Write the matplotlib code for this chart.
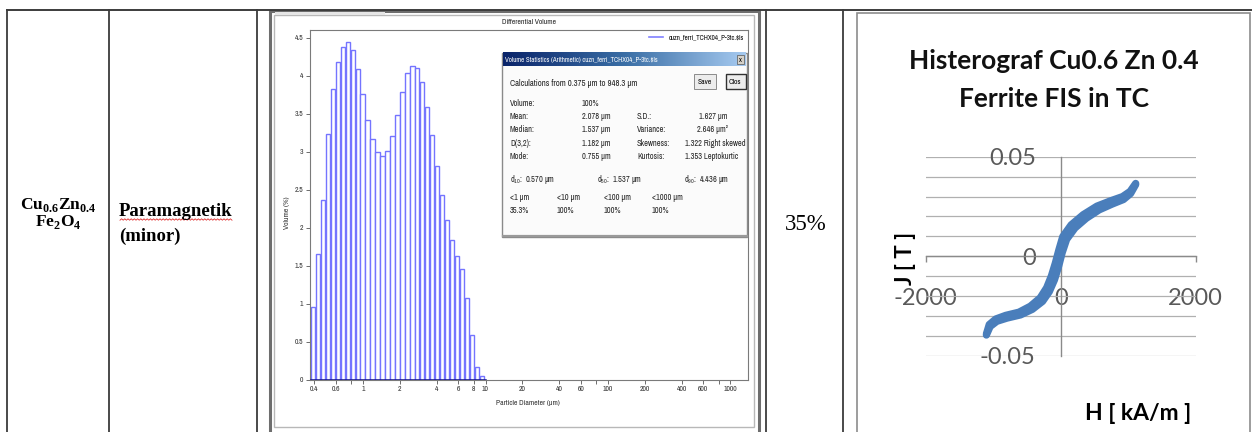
import numpy as np
import matplotlib
matplotlib.use("Agg")
import matplotlib.pyplot as plt
from matplotlib.patches import Rectangle
from matplotlib.lines import Line2D
from matplotlib.ticker import FixedLocator, NullFormatter, FixedFormatter

plt.rcParams['axes.unicode_minus'] = False
plt.rcParams['mathtext.fontset'] = 'custom'
plt.rcParams['mathtext.rm'] = 'Liberation Serif'
plt.rcParams['mathtext.bf'] = 'Liberation Serif:bold'
plt.rcParams['mathtext.sf'] = 'Archivo Narrow'

# --- particle size distribution (LS channels, um) ---
channel_edges = [0.375, 0.412, 0.452, 0.496, 0.545, 0.598, 0.657, 0.721, 0.791,
                 0.869, 0.953, 1.047, 1.149, 1.261, 1.385, 1.520, 1.669, 1.832,
                 2.011, 2.207, 2.423, 2.660, 2.920, 3.206, 3.519, 3.863, 4.241,
                 4.656, 5.111, 5.611, 6.159, 6.761, 7.422, 8.148, 8.944, 9.819]
volume_pct = [0.95, 1.65, 2.36, 3.23, 3.82, 4.18, 4.37, 4.44, 4.34, 4.09,
              3.76, 3.42, 3.16, 2.99, 2.94, 3.01, 3.21, 3.48, 3.79, 4.03,
              4.13, 4.10, 3.92, 3.59, 3.22, 2.81, 2.43, 2.10, 1.83, 1.63,
              1.46, 1.07, 0.58, 0.16, 0.04]
size_ticks = [0.4, 0.6, 1, 2, 4, 6, 8, 10, 20, 40, 60, 100, 200, 400, 600, 1000]
size_minor = [0.8, 80, 800]
vol_ticks = [0, 0.5, 1, 1.5, 2, 2.5, 3, 3.5, 4, 4.5]

stat_rows = [("Volume:", "100%", "", ""),
             ("Mean:", "2.078 µm", "S.D.:", "1.627 µm"),
             ("Median:", "1.537 µm", "Variance:", "2.646 µm²"),
             ("D(3,2):", "1.182 µm", "Skewness:", "1.322 Right skewed"),
             ("Mode:", "0.755 µm", "Kurtosis:", "1.353 Leptokurtic")]
d_values = [(r"d$_{\mathsf{10}}$:", "0.570 µm"), (r"d$_{\mathsf{50}}$:", "1.537 µm"), (r"d$_{\mathsf{90}}$:", "4.436 µm")]
under_labels = ["<1 µm", "<10 µm", "<100 µm", "<1000 µm"]
under_values = ["35.3%", "100%", "100%", "100%"]

# --- hysteresis loop (H in kA/m, J in T) ---
asc_h = [-1101, -1045, -945, -795, -595, -420, -268, -168, -92, -30, 22, 88, 212, 380, 570, 762, 930, 1036, 1111]
asc_b = [-0.0395, -0.0352, -0.0326, -0.0310, -0.0294, -0.0266, -0.0226, -0.0177, -0.0118, -0.0050,
         0.0018, 0.0085, 0.0142, 0.0191, 0.0233, 0.0262, 0.0285, 0.0315, 0.0360]
desc_h = [1111, 1028, 916, 740, 536, 332, 154, 30, -28, -80, -138, -208, -304, -450, -619, -815, -961, -1059, -1101]
desc_b = [0.0366, 0.0326, 0.0300, 0.0279, 0.0252, 0.0209, 0.0158, 0.0099, 0.0032, -0.0034,
          -0.0098, -0.0157, -0.0208, -0.0250, -0.0280, -0.0296, -0.0314, -0.0342, -0.0389]

W, H = 1252, 432
fig = plt.figure(figsize=(W / 100, H / 100), dpi=100)


def box(x0, y0, x1, y1):
    return [x0 / W, 1 - y1 / H, (x1 - x0) / W, (y1 - y0) / H]


cv = fig.add_axes([0, 0, 1, 1], zorder=0)
cv.set_xlim(0, W)
cv.set_ylim(H, 0)
cv.axis('off')

# table grid
line_c = '#3c3c3c'
cv.plot([7, W], [9.5, 9.5], color=line_c, lw=1.4)
for xv in [7, 108.5, 257, 766, 843]:
    cv.plot([xv, xv], [9.5, H], color=line_c, lw=1.3)

cv.text(58, 205, r'$\mathbf{Cu}_{\mathbf{0.6}}\mathbf{Zn}_{\mathbf{0.4}}$', ha='center', va='center', fontsize=12.5)
cv.text(58, 222, r'$\mathbf{Fe}_{\mathbf{2}}\mathbf{O}_{\mathbf{4}}$', ha='center', va='center', fontsize=12.5)
cv.text(119, 216, "Paramagnetik", family='Liberation Serif', weight='bold', fontsize=13.5, va='baseline')
cv.text(119, 241, "(minor)", family='Liberation Serif', weight='bold', fontsize=13.5, va='baseline')
wx = np.arange(120, 233, 1.6)
cv.plot(wx, 219.5 + 0.7 * (-1) ** np.arange(len(wx)), color='#e03030', lw=0.6)
cv.text(806, 224, "35%", family='Liberation Serif', fontsize=16.5, ha='center', va='center')

# screenshot window frame
cv.add_patch(Rectangle((269.5, 10.5), 489, 425, facecolor='white', edgecolor='#6e6e6e', lw=2.2))
cv.add_patch(Rectangle((274, 14.5), 480, 412, facecolor='none', edgecolor='#b8b8b8', lw=1))
cv.add_patch(Rectangle((275, 12), 110, 3, facecolor='#e6e6e6', edgecolor='none'))

# chart frame on the right
cv.add_patch(Rectangle((857, 13), 393, 430, facecolor='white', edgecolor='#8c8c8c', lw=1.2))

small = ['Archivo Narrow', 'DejaVu Sans']
txt_c = '#262626'

# ---------------- histogram ----------------
ax = fig.add_axes(box(310, 30, 748, 379.5), zorder=1)
ax.set_xscale('log')
lefts = np.array(channel_edges[:-1])
widths = np.diff(channel_edges) * 0.88
ax.bar(lefts, volume_pct, width=widths, align='edge', facecolor='white',
       edgecolor='#7474ff', lw=1.0)
ax.plot([channel_edges[0], channel_edges[-1]], [0, 0], color='#10108a', lw=1.8, zorder=4)
ax.set_xlim(0.369, 1390)
ax.set_ylim(0, 4.6)
ax.xaxis.set_major_locator(FixedLocator(size_ticks))
ax.xaxis.set_major_formatter(FixedFormatter(['%g' % v for v in size_ticks]))
ax.xaxis.set_minor_locator(FixedLocator(size_minor))
ax.xaxis.set_minor_formatter(NullFormatter())
ax.set_yticks(vol_ticks)
ax.set_yticklabels(['%g' % v for v in vol_ticks])
ax.tick_params(labelsize=5.5, colors='#555555', length=3, width=0.6, pad=2)
ax.tick_params(which='minor', length=3, width=0.6, colors='#555555')
for lab in ax.get_xticklabels() + ax.get_yticklabels():
    lab.set_family(small)
    lab.set_color('#333333')
for s in ax.spines.values():
    s.set_color('#7a7a7a')
    s.set_linewidth(0.8)
ax.set_title("Differential Volume", fontsize=5.5, family=small, pad=4, color=txt_c)
ax.legend(handles=[Line2D([0], [0], color='#8080ff', lw=1.2)],
          labels=[r"cuzn_ferri_TCHX04_P-3tc.\$ls"], loc='upper right', frameon=False,
          prop={'family': small, 'size': 5}, handlelength=2, borderaxespad=0.2)
cv.text(287, 213, "Volume (%)", rotation=90, ha='center', va='center', fontsize=5.5, family=small, color='#333333')
cv.text(528, 403, "Particle Diameter (µm)", ha='center', va='center', fontsize=5.5, family=small, color='#333333')

# ---------------- statistics dialog (overlay) ----------------
ov = fig.add_axes([0, 0, 1, 1], zorder=3)
ov.set_xlim(0, W)
ov.set_ylim(H, 0)
ov.axis('off')
ov.patch.set_alpha(0)
ov.add_patch(Rectangle((502, 52.5), 245, 184, facecolor='#fbfbfb', edgecolor='#8a8a8a', lw=1.0))
ov.plot([503, 747], [236, 236], color='#9a9a9a', lw=1.6)
grad = np.linspace(0, 1, 256).reshape(1, -1)
ov.imshow(grad, extent=(503, 746, 66.5, 53), cmap=matplotlib.colors.LinearSegmentedColormap.from_list(
    'tb', ['#0a246a', '#3a6ea5', '#a6caf0']), aspect='auto', zorder=2)
ov.text(505, 60, r"Volume Statistics (Arithmetic) cuzn_ferri_TCHX04_P-3tc.\$ls", color='white',
        fontsize=5, weight='bold', family=small, va='center', zorder=3)
ov.add_patch(Rectangle((737, 55), 7, 9, facecolor='#d4d0c8', edgecolor='#555555', lw=0.5, zorder=3))
ov.text(740.5, 59.5, "x", fontsize=5, ha='center', va='center', zorder=4, family=small, weight='bold')
ov.text(510, 83, "Calculations from 0.375 µm to 948.3 µm", fontsize=6.3, family=small, va='center', color=txt_c)
ov.add_patch(Rectangle((694, 74), 22, 15, facecolor='#ececec', edgecolor='#8a8a8a', lw=0.7))
ov.text(705, 81.5, "Save", fontsize=5.5, family=small, ha='center', va='center')
ov.add_patch(Rectangle((726, 74), 20, 15, facecolor='#ececec', edgecolor='#303030', lw=1.0))
ov.text(729, 81.5, "Clos", fontsize=5.5, family=small, va='center')

fs = 6
row_y = [103, 116.7, 130, 143.5, 156.8]
col4_x = [702, 699, 697, 685, 685]
for (a, b, c, d), yy, x4 in zip(stat_rows, row_y, col4_x):
    ov.text(510, yy, a, fontsize=fs, family=small, va='center', color=txt_c)
    ov.text(582, yy, b, fontsize=fs, family=small, va='center', color=txt_c)
    if c:
        ov.text(637, yy, c, fontsize=fs, family=small, va='center', color=txt_c)
        ov.text(x4, yy, d, fontsize=fs, family=small, va='center', color=txt_c, clip_on=True)
for (lab, val), xx in zip(d_values, [510, 597, 684]):
    ov.text(xx, 179, lab + "  " + val, fontsize=fs, family=small, va='center', color=txt_c)
for lab, val, xx in zip(under_labels, under_values, [510, 557, 604, 652]):
    ov.text(xx, 197, lab, fontsize=fs, family=small, va='center', color=txt_c)
    ov.text(xx, 210.5, val, fontsize=fs, family=small, va='center', color=txt_c)

# ---------------- hysteresis chart ----------------
hx = fig.add_axes(box(925.7, 156.7, 1195.7, 356), zorder=1)
hx.patch.set_alpha(0)
hx.set_xlim(-2000, 2000)
hx.set_ylim(-0.05, 0.05)
blue = '#4a7ebb'
hx.fill(asc_h + desc_h, asc_b + desc_b, color=blue, lw=0, zorder=5)
hx.plot(asc_h, asc_b, color=blue, lw=5.2, solid_capstyle='round', solid_joinstyle='round', zorder=5)
hx.plot(desc_h, desc_b, color=blue, lw=5.2, solid_capstyle='round', solid_joinstyle='round', zorder=5)
for side in ['top', 'right']:
    hx.spines[side].set_visible(False)
hx.spines['left'].set_position(('data', 0))
hx.spines['bottom'].set_position(('data', 0))
for side in ['left', 'bottom']:
    hx.spines[side].set_color('#8a8a8a')
    hx.spines[side].set_linewidth(1.0)
hx.set_yticks([-0.05, 0, 0.05])
hx.set_yticklabels(['-0.05', '0', '0.05'])
hx.set_yticks(np.arange(-0.05, 0.0501, 0.01), minor=True)
hx.set_xticks([-2000, 0, 2000])
hx.set_xticklabels(['-2000', '0', '2000'])
hx.grid(axis='y', which='both', color='#b0b0b0', lw=0.9)
hx.tick_params(axis='y', which='both', length=0, pad=18, labelsize=17, labelcolor='#595959')
hx.tick_params(axis='x', length=4, width=1, color='#8a8a8a', pad=19, labelsize=17, labelcolor='#595959')
for lab in hx.get_xticklabels() + hx.get_yticklabels():
    lab.set_family('Lato')

cv.text(1054, 80, "Histerograf Cu0.6 Zn 0.4\nFerrite FIS in TC", ha='center', va='center',
        family='Lato', weight='bold', fontsize=19, linespacing=1.7, color='#111111')
cv.text(905, 258, "J [ T ]", rotation=90, ha='center', va='center', family='Lato', weight='bold', fontsize=16)
cv.text(1138, 414, "H [ kA/m ]", ha='center', va='center', family='Lato', weight='bold', fontsize=16.5)

fig.savefig('out.png', dpi=100)
